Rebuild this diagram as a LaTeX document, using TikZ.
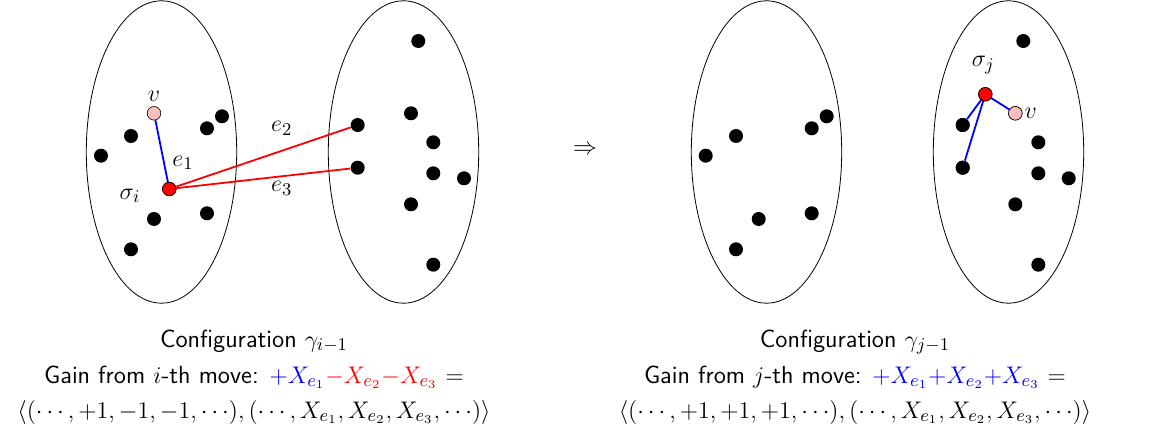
\documentclass[tikz,border=0pt]{standalone}
\usetikzlibrary{shapes.geometric}
\begin{document}
\begin{tikzpicture}[x=0.5pt,y=-0.5pt,
  dot/.style={circle,fill=black,inner sep=0pt,minimum size=7pt},
  reddot/.style={circle,draw=black,fill=red,inner sep=0pt,minimum size=6.8pt,line width=0.3pt},
  pinkdot/.style={circle,draw=black,fill=pink,inner sep=0pt,minimum size=6.8pt,line width=0.3pt},
  blob/.style={draw=black,line width=0.4pt},
  blueedge/.style={blue,line width=0.9pt},
  rededge/.style={red,line width=0.9pt},
  lbl/.style={inner sep=0pt,font=\fontsize{12.4}{14.8}\selectfont},
  txt/.style={inner sep=0pt,anchor=base,font=\fontsize{12.4}{14.8}\selectfont\sffamily}]
\useasboundingbox (0,0) rectangle (1172,438);
% ellipses
\draw[blob] (161.5,152) ellipse [x radius=37.6pt, y radius=75.6pt];
\draw[blob] (403.5,152) ellipse [x radius=37.6pt, y radius=75.6pt];
\draw[blob] (766.5,152) ellipse [x radius=37.6pt, y radius=75.6pt];
\draw[blob] (1008.5,152) ellipse [x radius=37.6pt, y radius=75.6pt];
% left configuration, set A
\node[dot] (a1) at (131,136) {};
\node[dot] (a2) at (101,155.7) {};
\node[dot] (a3) at (207,128.3) {};
\node[dot] (a4) at (222,116.3) {};
\node[dot] (a5) at (154,219) {};
\node[dot] (a6) at (207,213.3) {};
\node[dot] (a7) at (131,249.3) {};
% left configuration, set B
\node[dot] (b1) at (418.3,41) {};
\node[dot] (b2) at (411,113.3) {};
\node[dot] (b3) at (357.7,125) {};
\node[dot] (b4) at (433.3,142.3) {};
\node[dot] (b5) at (357.7,167.7) {};
\node[dot] (b6) at (433.3,173.3) {};
\node[dot] (b7) at (464,178.3) {};
\node[dot] (b8) at (411,204.3) {};
\node[dot] (b9) at (433.3,264.7) {};
% sigma_i and v
\node[pinkdot] (v1) at (154,113.3) {};
\node[reddot] (s1) at (169.3,189) {};
\draw[blueedge] (s1) -- (v1);
\draw[rededge] (s1) -- (b3);
\draw[rededge] (s1) -- (b5);
\node[reddot] at (s1) {};
\node[lbl] (lv1) at (154,96.7) {$v$};
\node[lbl] (le1) at (183,163) {$e_1$};
\node[lbl] (le2) at (281.7,128.3) {$e_2$};
\node[lbl] (le3) at (281.7,188.3) {$e_3$};
\node[lbl] (ls1) at (130,196) {$\sigma_i$};
% arrow
\node[lbl] (arr) at (585,150) {$\Rightarrow$};
% right configuration, set A
\node[dot] (c1) at (736,136) {};
\node[dot] (c2) at (705.7,155.7) {};
\node[dot] (c3) at (811.7,128.3) {};
\node[dot] (c4) at (826.7,116.3) {};
\node[dot] (c5) at (758.7,219) {};
\node[dot] (c6) at (811.7,213.3) {};
\node[dot] (c7) at (736,249.3) {};
% right configuration, set B
\node[dot] (d1) at (1023.3,41) {};
\node[dot] (d3) at (962.7,125) {};
\node[dot] (d4) at (1038.3,142.3) {};
\node[dot] (d5) at (962.7,167.7) {};
\node[dot] (d6) at (1038.3,173.3) {};
\node[dot] (d7) at (1068.7,178.3) {};
\node[dot] (d8) at (1015.3,204.3) {};
\node[dot] (d9) at (1038.3,264.7) {};
\node[pinkdot] (v2) at (1015.3,113.3) {};
\node[reddot] (s2) at (985.3,94.3) {};
\draw[blueedge] (s2) -- (v2);
\draw[blueedge] (s2) -- (d3);
\draw[blueedge] (s2) -- (d5);
\node[reddot] at (s2) {};
\node[pinkdot] at (v2) {};
\node[dot] at (d3) {};
\node[dot] at (d5) {};
\node[lbl] (ls2) at (983.3,65) {$\sigma_j$};
\node[lbl] (lv2) at (1030.7,113.3) {$v$};
% captions
\node[txt] (t1) at (254,347) {Configuration $\gamma_{i-1}$};
\node[txt] (t2) at (254,383) {Gain from $i$-th move: {\color{blue}$+X_{e_1}$}{\color{red}$-X_{e_2}$}{\color{red}$-X_{e_3}$} $=$};
\node[txt] (t3) at (254,418) {$\langle(\cdots,+1,-1,-1,\cdots),(\cdots,X_{e_1},X_{e_2},X_{e_3},\cdots)\rangle$};
\node[txt] (t4) at (855,347) {Configuration $\gamma_{j-1}$};
\node[txt] (t5) at (855,383) {Gain from $j$-th move: {\color{blue}$+X_{e_1}$}{\color{blue}$+X_{e_2}$}{\color{blue}$+X_{e_3}$} $=$};
\node[txt] (t6) at (855,418) {$\langle(\cdots,+1,+1,+1,\cdots),(\cdots,X_{e_1},X_{e_2},X_{e_3},\cdots)\rangle$};
\end{tikzpicture}
\end{document}
